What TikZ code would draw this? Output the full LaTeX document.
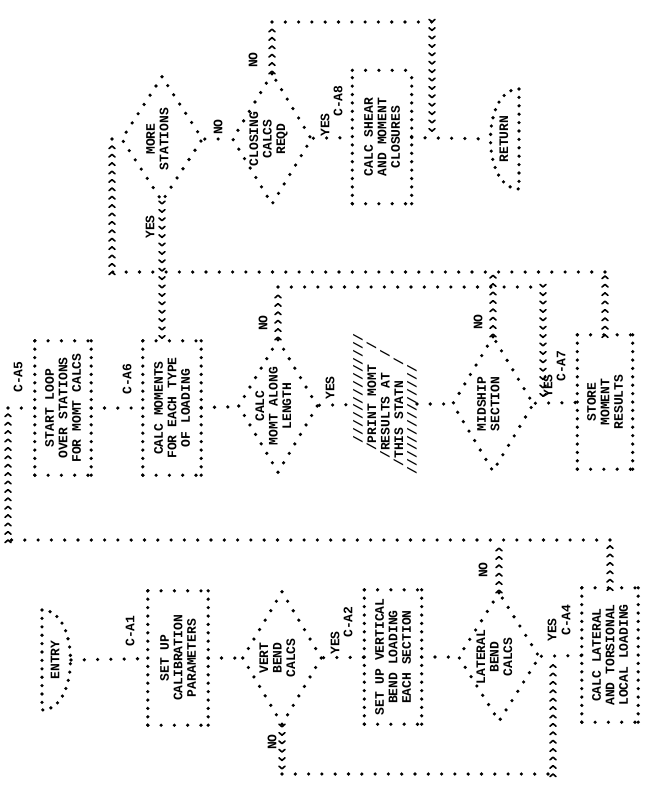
\documentclass[tikz,border=0pt]{standalone}
\usepackage{fontspec}
\setmonofont{Liberation Mono}
\usetikzlibrary{shapes.geometric,decorations.markings}
\newcommand\lpfont{\fontsize{13}{13.5}\selectfont\ttfamily\bfseries}
\newcommand\dtext[1]{\smash{\makebox[0pt]{\begin{tabular}{@{}c@{}}#1\end{tabular}}}}

\begin{document}
\begin{tikzpicture}[x=1pt,y=-1pt,
  vdots/.style={draw,line width=3.6pt,line cap=round,dash pattern=on 0pt off 8.4pt},
  hdots/.style={draw,line width=3.6pt,line cap=round,dash pattern=on 0pt off 13.3pt},
  ddots/.style={draw,line width=3.6pt,line cap=round,dash pattern=on 0pt off 11pt},
  lbl/.style={rotate=90,font=\lpfont,inner sep=0pt},
  procbox/.style={lbl,align=center,minimum width=134pt,minimum height=57pt,
    append after command={(\tikzlastnode.north west) edge[vdots] (\tikzlastnode.north east)
      (\tikzlastnode.south west) edge[vdots] (\tikzlastnode.south east)
      (\tikzlastnode.north east) edge[hdots] (\tikzlastnode.south east)
      (\tikzlastnode.north west) edge[hdots] (\tikzlastnode.south west)}},
  decision/.style={lbl,diamond,ddots,minimum width=134pt,minimum height=80pt},
  arrowrun/.style={postaction={decorate,decoration={markings,
    mark=between positions 0 and 1 step 8.4pt with {\draw[line width=1.6pt,line cap=round,line join=round] (-2.6pt,-3pt) -- (0pt,0pt) -- (-2.6pt,3pt);}}}}]
  \useasboundingbox (0,0) rectangle (647,793);

  \node at(55,660)[lbl](entry){ENTRY};
  \coordinate (entry-r) at (71,660);
  \draw[vdots] (42,610) -- (42,710) .. controls (80,710) and (80,610) .. (42,610);
  \node at(130,631)[lbl](ca1){C-A1};
  \node at(178,658)[procbox,minimum height=60pt](calib){SET UP\\CALIBRATION\\PARAMETERS};
  \node at(282,658)[decision](vert){\dtext{VERT\\BEND\\CALCS}};
  \node at(335,643)[lbl](vyes){YES};
  \node at(348,622)[lbl](ca2){C-A2};
  \node at(272,742)[lbl](vno){NO};
  \node at(393,657)[procbox](vsetup){SET UP VERTICAL\\BEND LOADING\\EACH SECTION};
  \node at(499,657)[decision,minimum width=130pt,minimum height=82pt](lat){\dtext{LATERAL\\BEND\\CALCS}};
  \node at(483,570)[lbl](lno){NO};
  \node at(552,630)[lbl](lyes){YES};
  \node at(566,620)[lbl](ca4){C-A4};
  \node at(610,655)[procbox,minimum height=56pt](latcalc){CALC LATERAL\\AND TORSIONAL\\LOCAL LOADING};

  \node at(18,377)[lbl](ca5){C-A5};
  \node at(63,408)[procbox,minimum height=56pt](loop){START LOOP\\OVER STATIONS\\FOR MOMT CALCS};
  \node at(127,379)[lbl](ca6){C-A6};
  \node at(172,408)[procbox,minimum height=58pt](moments){CALC MOMENTS\\FOR EACH TYPE\\OF LOADING};
  \node at(278,406)[decision](calcmomt){\dtext{CALC\\MOMT ALONG\\LENGTH}};
  \node at(263,323)[lbl](cno){NO};
  \node at(330,388)[lbl](cyes){YES};
  \node at(385,404)[lbl,align=left](print){\hspace*{2.4em}//////////////\\\hspace*{1.8em}/PRINT~MOMT~~/\\\hspace*{1.2em}/RESULTS~AT~~/\\\hspace*{0.6em}/THIS~STATN~~/\\//////////////};
  \node at(493,404)[decision,minimum width=136pt,minimum height=82pt](midship){\dtext{MIDSHIP\\SECTION}};
  \node at(478,322)[lbl](mno){NO};
  \node at(548,386)[lbl](myes){YES};
  \node at(561,366)[lbl](ca7){C-A7};
  \node at(605,402)[procbox,minimum height=55pt](store){STORE\\MOMENT\\RESULTS};

  \node at(162,139)[decision,minimum width=126pt,minimum height=82pt](more){\dtext{MORE\\STATIONS}};
  \node at(150,227)[lbl](moyes){YES};
  \node at(218,127)[lbl](mono){NO};
  \node at(272,139)[decision,minimum width=132pt](closing){\dtext{CLOSING\\CALCS\\REQD}};
  \node at(253,60)[lbl](clno){NO};
  \node at(325,125)[lbl](clyes){YES};
  \node at(338,101)[lbl](ca8){C-A8};
  \node at(382,137)[procbox,minimum width=133pt,minimum height=59pt](shear){CALC SHEAR\\AND MOMENT\\CLOSURES};
  \node at(504,139)[lbl](ret){RETURN};
  \coordinate (ret-l) at (490,139);
  \draw[vdots] (519,89) -- (519,189) .. controls (481,189) and (481,89) .. (519,89);

  \draw[hdots] (entry-r) -- (calib);
  \draw[hdots] (calib) -- (vert);
  \draw[hdots] (vert) -- (vsetup);
  \draw[hdots] (vsetup) -- (lat);
  \draw[hdots] (lat) -- (latcalc);

  \coordinate (vno1) at (282,774);
  \coordinate (vno2) at (553,774);
  \path[arrowrun] (vert.west) -- (vno1);
  \draw[hdots] (vno1) -- (vno2);
  \path[arrowrun] (vno2) -- (vno2 |- lat);

  \coordinate (back1) at (606,540);
  \coordinate (back2) at (8,540);
  \coordinate (back3) at (8,408);
  \path[arrowrun] (lat.east) -- (lat.east |- back1);
  \path[arrowrun] (latcalc.east) -- (latcalc.east |- back1);
  \draw[hdots] (latcalc.east |- back1) -- (back2);
  \path[arrowrun] (back2) -- (back3);
  \draw[hdots] (back3) -- (loop);

  \draw[hdots] (loop) -- (moments);
  \draw[hdots] (moments) -- (calcmomt);
  \draw[hdots] (calcmomt) -- (print);
  \draw[hdots] (print) -- (midship);
  \draw[hdots] (midship) -- (store);

  \coordinate (skip1) at (543,287);
  \path[arrowrun] (calcmomt.east) -- (calcmomt.east |- skip1);
  \draw[hdots] (calcmomt.east |- skip1) -- (skip1);
  \path[arrowrun] (skip1) -- (skip1 |- store);

  \coordinate (next1) at (605,272);
  \coordinate (next2) at (112,272);
  \path[arrowrun] (midship.east) -- (midship.east |- next1);
  \path[arrowrun] (store.east) -- (next1);
  \draw[hdots] (next1) -- (next2);
  \path[arrowrun] (next2) -- (next2 |- more);
  \draw[hdots] (next2 |- more) -- (more);
  \path[arrowrun] (more.west) -- (more.west |- moments.east);

  \draw[hdots] (more) -- (closing);
  \draw[hdots] (closing) -- (shear);
  \draw[hdots] (shear) -- (ret-l);
  \coordinate (done1) at (432,22);
  \path[arrowrun] (closing.east) -- (closing.east |- done1);
  \draw[hdots] (closing.east |- done1) -- (done1);
  \path[arrowrun] (done1) -- (done1 |- shear);
\end{tikzpicture}
\end{document}
